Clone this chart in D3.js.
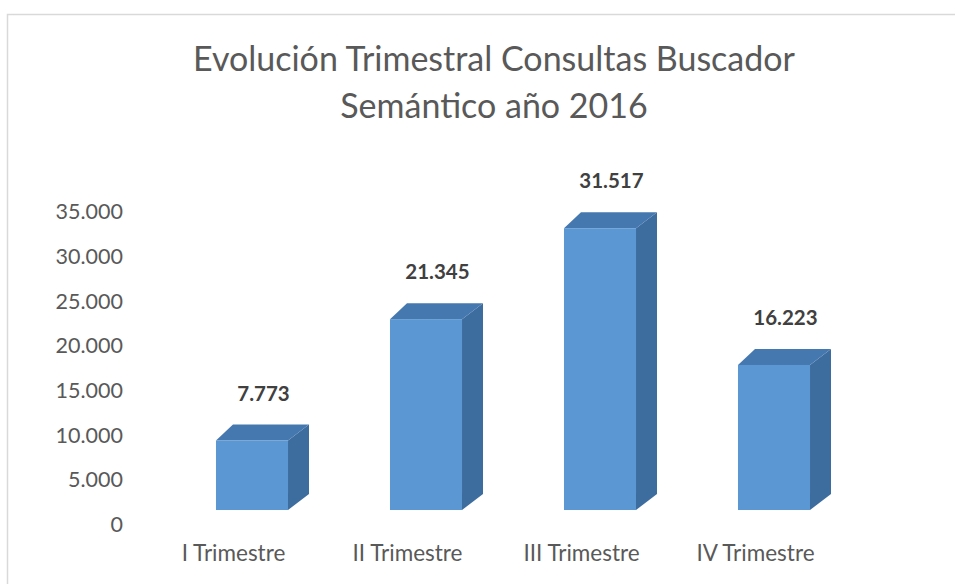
<!DOCTYPE html>
<html>
<head>
<meta charset="utf-8">
<script src="https://cdn.jsdelivr.net/npm/d3@7"></script>
<style>
  html, body { margin: 0; padding: 0; background: #ffffff; }
  svg { display: block; }
  text { font-family: Lato, "Open Sans", sans-serif; }
</style>
</head>
<body>
<svg id="chart" width="955" height="584"></svg>
<script>
// ---- data ----
const categories = ["I Trimestre", "II Trimestre", "III Trimestre", "IV Trimestre"];
const values = [7773, 21345, 31517, 16223];
const valueLabels = ["7.773", "21.345", "31.517", "16.223"];
const tickValues = [0, 5000, 10000, 15000, 20000, 25000, 30000, 35000];
const titleLines = ["Evolución Trimestral Consultas Buscador", "Semántico año 2016"];

// ---- layout ----
const svg = d3.select("#chart");

// chart-area border (only left and top edges visible in view)
svg.append("rect")
  .attr("x", 7.5).attr("y", 14.5)
  .attr("width", 1200).attr("height", 1200)
  .attr("fill", "#ffffff")
  .attr("stroke", "#d9d9d9").attr("stroke-width", 1.5);

const baseY = 510;
const y = d3.scaleLinear().domain([0, 35000]).range([baseY, baseY - 35000 * 0.00894]);
const x = d3.scaleBand().domain(categories).range([165, 861]).paddingInner(0.586).paddingOuter(0.293);

const depthX = 21, depthY = 16;
const fmt = d3.formatLocale({decimal: ",", thousands: ".", grouping: [3]}).format(",.0f");

// title
const title = svg.append("text")
  .attr("x", 494).attr("y", 71)
  .attr("text-anchor", "middle")
  .attr("fill", "#595959")
  .attr("font-size", 34);
titleLines.forEach((t, i) => {
  title.append("tspan").attr("x", 494).attr("dy", i === 0 ? 0 : 46.5).text(t);
});

// y axis (labels only)
const yAxis = d3.axisLeft(y.copy().range([y.range()[0] + 14.5, y.range()[1] + 14.5 + 0.5]))
  .tickValues(tickValues)
  .tickFormat(d => fmt(d))
  .tickSize(0).tickPadding(0);
const yg = svg.append("g").attr("transform", "translate(123,0)").call(yAxis);
yg.select(".domain").remove();
yg.selectAll("text")
  .attr("fill", "#595959")
  .attr("font-size", 21.5)
  .attr("font-family", "Lato, 'Open Sans', sans-serif");

// x axis (labels only)
const xAxis = d3.axisBottom(x).tickSize(0).tickPadding(0);
const xg = svg.append("g").attr("transform", "translate(-18.5,545)").call(xAxis);
xg.select(".domain").remove();
xg.selectAll("text")
  .attr("fill", "#595959")
  .attr("font-size", 22.5)
  .attr("dy", "0.71em")
  .attr("font-family", "Lato, 'Open Sans', sans-serif");

// 3D bars
const bars = svg.append("g");
categories.forEach((c, i) => {
  const v = values[i];
  const x0 = x(c), x1 = x(c) + x.bandwidth();
  const yt = y(v), yb = y(0);
  const g = bars.append("g");
  // right side face
  g.append("path")
    .attr("d", `M${x1},${yt} L${x1 + depthX},${yt - depthY} L${x1 + depthX},${yb - depthY} L${x1},${yb} Z`)
    .attr("fill", "#3d6c9f");
  // top face
  g.append("path")
    .attr("d", `M${x0},${yt} L${x0 + depthX - 4},${yt - depthY} L${x1 + depthX},${yt - depthY} L${x1},${yt} Z`)
    .attr("fill", "#4678b0");
  // front face
  g.append("rect")
    .attr("x", x0).attr("y", yt)
    .attr("width", x.bandwidth()).attr("height", yb - yt)
    .attr("fill", "#5a97d3");
  // value label
  svg.append("text")
    .attr("x", (x0 + x1 + depthX) / 2 + 1)
    .attr("y", yt - depthY - 24)
    .attr("text-anchor", "middle")
    .attr("font-weight", "bold")
    .attr("font-size", 20.5)
    .attr("fill", "#404040")
    .text(valueLabels[i]);
});
</script>
</body>
</html>
